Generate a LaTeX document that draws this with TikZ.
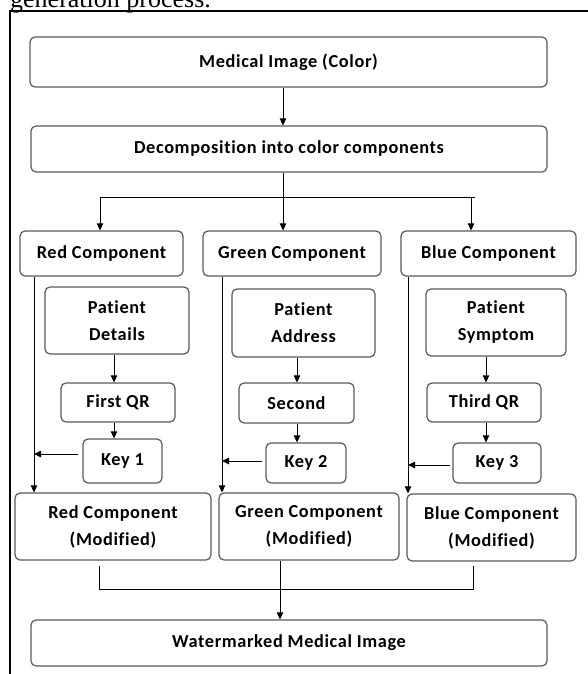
\documentclass[tikz,border=0pt]{standalone}
\usepackage{fontspec}
\setmainfont[Ligatures={NoCommon}]{Carlito}
\newfontfamily\boxfont[Ligatures={NoCommon},LetterSpace=3.5]{Carlito}
\newfontfamily\titlefont{Liberation Serif}
\usetikzlibrary{arrows.meta}
\begin{document}
\begin{tikzpicture}[x=1pt,y=-1pt,
  box/.style={draw=black!65, line width=1.2pt, rounded corners=5pt, align=center,
    inner sep=0pt, font=\boxfont\fontsize{18.3}{27}\selectfont\bfseries},
  conn/.style={draw=black, line width=0.9pt},
  arr/.style={conn, -{Triangle[length=7pt,width=6.5pt]}}]
\useasboundingbox (0,0) rectangle (588,674);
% title and frame
\node[anchor=base west, inner sep=0pt, font=\titlefont\fontsize{26}{26}\selectfont] (title) at (10,8) {generation process.};
\draw[line width=1.2pt] (592,11) -- (10,11) -- (10,678);
% boxes
\node[box, minimum width=517pt, minimum height=50pt] (img) at (288.5,62) {Medical Image (Color)};
\node[box, minimum width=516pt, minimum height=46pt] (dec) at (289,149) {Decomposition into color components};
\node[box, minimum width=163pt, minimum height=45pt] (red) at (101.5,253.5) {Red Component};
\node[box, minimum width=178pt, minimum height=45pt] (green) at (292,253.5) {Green Component};
\node[box, minimum width=175pt, minimum height=45pt] (blue) at (488.5,253.5) {Blue Component};
\node[box, minimum width=144pt, minimum height=67pt] (pd) at (117,320.5) {Patient\\Details};
\node[box, minimum width=143pt, minimum height=68pt] (pa) at (303.5,323) {Patient\\Address};
\node[box, minimum width=140pt, minimum height=67pt] (ps) at (496,322.5) {Patient\\Symptom};
\node[box, minimum width=114pt, minimum height=39pt] (q1) at (118,402.5) {First QR};
\node[box, minimum width=115pt, minimum height=40pt] (q2) at (296.5,403) {Second};
\node[box, minimum width=114pt, minimum height=39pt] (q3) at (484,402.5) {Third QR};
\node[box, minimum width=79pt, minimum height=44pt] (k1) at (122.5,461) {Key 1};
\node[box, minimum width=80pt, minimum height=40pt] (k2) at (306,463) {Key 2};
\node[box, minimum width=88pt, minimum height=40pt] (k3) at (497,463) {Key 3};
\node[box, minimum width=196pt, minimum height=67pt] (rm) at (113,526.5) {Red Component\\(Modified)};
\node[box, minimum width=180pt, minimum height=67pt] (gm) at (309,526.5) {Green Component\\(Modified)};
\node[box, minimum width=169pt, minimum height=67pt] (bm) at (491.5,527.5) {Blue Component\\(Modified)};
\node[box, minimum width=516pt, minimum height=46pt] (wm) at (289,643) {Watermarked Medical Image};
% helper coordinates
\coordinate (cA) at (283,0);
\coordinate (cL) at (100,0);
\coordinate (cR) at (471,0);
\coordinate (cRe) at (475,0);
\coordinate (c1) at (114,0);
\coordinate (c2) at (297,0);
\coordinate (c3) at (486,0);
\coordinate (vR) at (34,0);
\coordinate (vG) at (222,0);
\coordinate (vB) at (408,0);
\coordinate (cM) at (280,0);
\coordinate (yH) at (0,197);
\coordinate (k1a) at (78,454);
\coordinate (k2a) at (262,461);
\coordinate (k3a) at (450,465);
\coordinate (bL0) at (99,566);
\coordinate (bL1) at (99,589);
\coordinate (bR1) at (473,589);
\coordinate (bR0) at (473,566);
% connectors
\draw[arr] (img.south -| cA) -- (dec.north -| cA);
\draw[arr] (dec.south -| cA) -- (green.north -| cA);
\draw[conn] (yH -| cL) -- (yH -| cRe);
\draw[arr] (yH -| cL) -- (red.north -| cL);
\draw[arr] (yH -| cR) -- (blue.north -| cR);
\draw[arr] (pd.south -| c1) -- (q1.north -| c1);
\draw[arr] (q1.south -| c1) -- (k1.north -| c1);
\draw[arr] (pa.south -| c2) -- (q2.north -| c2);
\draw[arr] (q2.south -| c2) -- (k2.north -| c2);
\draw[arr] (ps.south -| c3) -- (q3.north -| c3);
\draw[arr] (q3.south -| c3) -- (k3.north -| c3);
\draw[arr] (red.south -| vR) -- (rm.north -| vR);
\draw[arr] (green.south -| vG) -- (gm.north -| vG);
\draw[arr] (blue.south -| vB) -- (bm.north -| vB);
\draw[arr] (k1a) -- (k1a -| vR);
\draw[arr] (k2a) -- (k2a -| vG);
\draw[arr] (k3a) -- (k3a -| vB);
\draw[conn] (bL0) -- (bL1) -- (bR1) -- (bR0);
\draw[arr] (gm.south -| cM) -- (wm.north -| cM);
\end{tikzpicture}
\end{document}
